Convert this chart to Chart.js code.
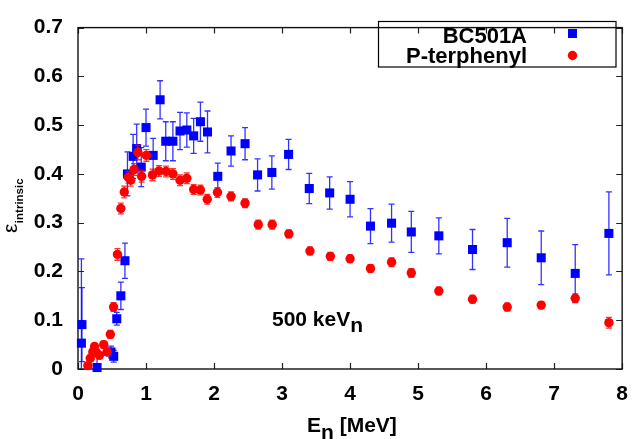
<!DOCTYPE html>
<html><head><meta charset="utf-8">
<script src="https://cdn.jsdelivr.net/npm/chart.js@4/dist/chart.umd.min.js"></script>
<style>html,body{margin:0;padding:0;background:#fff}canvas{display:block}</style>
</head><body>
<canvas id="c" width="641" height="439" style="width:641px;height:439px"></canvas>
<script>
// ---- data ----
const seriesNames = ['BC501A', 'P-terphenyl'];
const xTickValues = [0, 1, 2, 3, 4, 5, 6, 7, 8];
const yTickValues = [0, 0.1, 0.2, 0.3, 0.4, 0.5, 0.6, 0.7];
const xTitle = ['E', 'n', ' [MeV]'];
const yTitle = ['\u03b5', 'intrinsic'];
const annotation = ['500 keV', 'n'];

const bcEnergy = [0.05, 0.058, 0.28, 0.485, 0.525, 0.57, 0.63, 0.69, 0.727, 0.81, 0.863, 0.93, 1.00, 1.105, 1.207, 1.29, 1.395, 1.50, 1.60, 1.70, 1.80, 1.904, 2.055, 2.25, 2.456, 2.64, 2.85, 3.096, 3.40, 3.70, 4.00, 4.30, 4.61, 4.90, 5.305, 5.80, 6.31, 6.81, 7.31, 7.805];
const bcEff =    [0.053, 0.091, 0.003, 0.035, 0.026, 0.103, 0.150, 0.222, 0.400, 0.436, 0.452, 0.414, 0.495, 0.438, 0.552, 0.467, 0.467, 0.488, 0.490, 0.478, 0.507, 0.486, 0.395, 0.447, 0.462, 0.398, 0.403, 0.440, 0.370, 0.361, 0.348, 0.293, 0.299, 0.281, 0.273, 0.245, 0.259, 0.228, 0.196, 0.278];
const bcErr =    [0.173, 0.076, 0.03, 0.012, 0.012, 0.013, 0.028, 0.036, 0.045, 0.045, 0.05, 0.04, 0.038, 0.035, 0.039, 0.04, 0.04, 0.038, 0.035, 0.036, 0.04, 0.043, 0.027, 0.031, 0.033, 0.033, 0.034, 0.031, 0.031, 0.033, 0.036, 0.036, 0.039, 0.042, 0.037, 0.041, 0.05, 0.055, 0.059, 0.085];

const ptEnergy = [0.145, 0.18, 0.218, 0.243, 0.27, 0.315, 0.378, 0.427, 0.475, 0.523, 0.58, 0.63, 0.68, 0.74, 0.776, 0.824, 0.882, 0.935, 1.005, 1.095, 1.19, 1.295, 1.395, 1.50, 1.60, 1.70, 1.80, 1.90, 2.05, 2.25, 2.456, 2.65, 2.855, 3.10, 3.41, 3.71, 4.00, 4.30, 4.61, 4.90, 5.305, 5.80, 6.31, 6.81, 7.31, 7.805];
const ptEff =    [0.007, 0.022, 0.035, 0.046, 0.034, 0.028, 0.050, 0.035, 0.071, 0.127, 0.235, 0.329, 0.363, 0.393, 0.387, 0.409, 0.444, 0.395, 0.438, 0.398, 0.406, 0.405, 0.400, 0.387, 0.391, 0.368, 0.367, 0.348, 0.362, 0.354, 0.340, 0.296, 0.296, 0.277, 0.242, 0.231, 0.226, 0.206, 0.219, 0.197, 0.160, 0.143, 0.127, 0.131, 0.145, 0.095];
const ptErr =    [0.005, 0.006, 0.006, 0.006, 0.006, 0.006, 0.007, 0.007, 0.008, 0.009, 0.012, 0.011, 0.012, 0.012, 0.012, 0.012, 0.015, 0.012, 0.012, 0.012, 0.011, 0.011, 0.011, 0.011, 0.011, 0.01, 0.01, 0.01, 0.01, 0.009, 0.009, 0.009, 0.009, 0.008, 0.008, 0.008, 0.008, 0.008, 0.009, 0.009, 0.008, 0.008, 0.008, 0.007, 0.009, 0.011];

const FONT = 'Liberation Sans, Arial, sans-serif';

const toPoints = (xs, ys) => xs.map((v, i) => ({ x: v, y: ys[i] }));

const errorBars = {
  id: 'errorBars',
  beforeDatasetDraw(chart, args) {
    const ds = chart.data.datasets[args.index];
    if (!ds.errors) return;
    const { ctx, chartArea: a, scales: { x, y } } = chart;
    ctx.save();
    ctx.beginPath();
    ctx.rect(a.left, a.top - 1, a.right - a.left, a.bottom - a.top + 2);
    ctx.clip();
    ctx.strokeStyle = ds.errorColor;
    ctx.lineWidth = 1.3;
    ds.data.forEach((p, i) => {
      const e = ds.errors[i];
      const px = x.getPixelForValue(p.x);
      const y1 = y.getPixelForValue(p.y - e);
      const y2 = y.getPixelForValue(p.y + e);
      ctx.beginPath();
      ctx.moveTo(px, y1); ctx.lineTo(px, y2);
      ctx.moveTo(px - 3, y1); ctx.lineTo(px + 3, y1);
      ctx.moveTo(px - 3, y2); ctx.lineTo(px + 3, y2);
      ctx.stroke();
    });
    ctx.restore();
  }
};

const frame = {
  id: 'frame',
  beforeDatasetsDraw(chart) {
    const { ctx, chartArea: a, scales: { x, y } } = chart;
    ctx.save();
    ctx.strokeStyle = '#222';
    ctx.lineWidth = 1.2;
    const T = 6;
    ctx.beginPath();
    x.ticks.forEach(t => {
      const px = Math.round(x.getPixelForValue(t.value)) + 0.5;
      ctx.moveTo(px, a.bottom); ctx.lineTo(px, a.bottom - T);
      ctx.moveTo(px, a.top); ctx.lineTo(px, a.top + T);
    });
    y.ticks.forEach(t => {
      const py = Math.round(y.getPixelForValue(t.value)) + 0.5;
      ctx.moveTo(a.left, py); ctx.lineTo(a.left + T, py);
      ctx.moveTo(a.right, py); ctx.lineTo(a.right - T, py);
    });
    ctx.stroke();
    ctx.strokeStyle = '#111';
    ctx.lineWidth = 1.4;
    ctx.strokeRect(a.left, a.top, a.right - a.left, a.bottom - a.top);
    ctx.restore();
  },
  afterDraw(chart) {
    const { ctx } = chart;
    ctx.save();
    ctx.fillStyle = '#000';
    ctx.textBaseline = 'alphabetic';
    ctx.textAlign = 'left';

    // annotation "500 keV_n"
    ctx.font = 'bold 21px ' + FONT;
    let x0 = 272;
    ctx.fillText(annotation[0], x0, 326);
    x0 += ctx.measureText(annotation[0]).width;
    ctx.fillText(annotation[1], x0, 332);

    // x title "E_n [MeV]"
    x0 = 307;
    ctx.fillText(xTitle[0], x0, 432);
    x0 += ctx.measureText(xTitle[0]).width;
    ctx.fillText(xTitle[1], x0, 439);
    x0 += ctx.measureText(xTitle[1]).width;
    ctx.fillText(xTitle[2], x0, 432);

    // y title
    ctx.save();
    ctx.translate(17, 233);
    ctx.rotate(-Math.PI / 2);
    ctx.font = '21px ' + FONT;
    ctx.fillText(yTitle[0], 0, 0);
    const w = ctx.measureText(yTitle[0]).width;
    ctx.font = 'bold 11.5px ' + FONT;
    ctx.fillText(yTitle[1], w + 0.5, 6);
    ctx.restore();

    // legend
    ctx.lineWidth = 1.2;
    ctx.strokeStyle = '#000';
    ctx.strokeRect(378.5, 21.5, 237.5, 45.5);
    ctx.font = 'bold 22px ' + FONT;
    ctx.textAlign = 'right';
    ctx.fillText(seriesNames[0], 527, 42.5);
    ctx.fillText(seriesNames[1], 527, 62.5);
    ctx.fillStyle = '#0000ff';
    ctx.fillRect(572.5 - 4.5, 33.5 - 4.5, 9, 9);
    ctx.fillStyle = '#ff0000';
    ctx.beginPath();
    ctx.arc(572.5, 55.5, 4.7, 0, Math.PI * 2);
    ctx.fill();
    ctx.restore();
  }
};

new Chart(document.getElementById('c'), {
  type: 'scatter',
  data: {
    datasets: [
      {
        label: seriesNames[1],
        data: toPoints(ptEnergy, ptEff),
        errors: ptErr,
        errorColor: 'rgba(255,0,0,0.8)',
        pointStyle: 'circle',
        pointRadius: 4.7,
        pointHoverRadius: 4.7,
        backgroundColor: '#ff0000',
        borderColor: '#ff0000',
        borderWidth: 0,
        showLine: false,
        clip: false,
        order: 0
      },
      {
        label: seriesNames[0],
        data: toPoints(bcEnergy, bcEff),
        errors: bcErr,
        errorColor: 'rgba(0,0,255,0.8)',
        pointStyle: 'rect',
        pointRadius: 6.4,
        pointHoverRadius: 6.4,
        backgroundColor: '#0000ff',
        borderColor: '#0000ff',
        borderWidth: 0,
        showLine: false,
        clip: false,
        order: 1
      }
    ]
  },
  options: {
    responsive: false,
    animation: false,
    devicePixelRatio: 1,
    events: [],
    layout: { padding: { left: 0, right: 12, top: 16, bottom: 0 } },
    plugins: { legend: { display: false }, tooltip: { enabled: false }, title: { display: false } },
    scales: {
      x: {
        type: 'linear',
        min: 0, max: 8,
        afterBuildTicks: s => { s.ticks = xTickValues.map(v => ({ value: v })); },
        afterFit: s => { s.height = 70; },
        grid: { display: false, drawTicks: false },
        border: { display: false },
        ticks: { color: '#000', padding: 13, font: { family: FONT, size: 21, weight: 'bold' }, maxRotation: 0 }
      },
      y: {
        type: 'linear',
        min: 0, max: 0.7,
        afterBuildTicks: s => { s.ticks = yTickValues.map(v => ({ value: v })); },
        afterFit: s => { s.width = 78; },
        grid: { display: false, drawTicks: false },
        border: { display: false },
        ticks: { color: '#000', padding: 15, font: { family: FONT, size: 21, weight: 'bold' } }
      }
    }
  },
  plugins: [errorBars, frame]
});
</script>
</body></html>
